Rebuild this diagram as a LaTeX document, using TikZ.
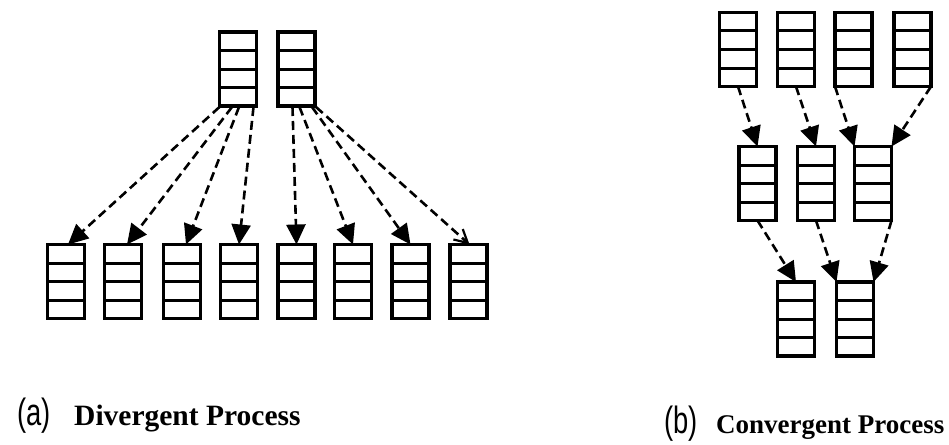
\documentclass[tikz,border=0pt]{standalone}
\usepackage{fontspec}
\setmainfont{Liberation Serif}
\newfontfamily\tagfont{Liberation Sans}
\usetikzlibrary{arrows.meta,calc}

\tikzset{
  queue/.style={draw, line width=3.2pt, outer sep=0pt, inner sep=0pt,
    minimum width=37pt, minimum height=74pt,
    path picture={
      \foreach \k in {1,2,3}
        \draw[line width=3pt]
          ($(path picture bounding box.north west)!\k/4!(path picture bounding box.south west)$)
          -- ++(60pt,0);
    }},
  flow/.style={line width=2.6pt, dash pattern=on 9pt off 5pt,
    -{Triangle[length=20pt,width=19pt]}},
  flowopen/.style={line width=2.6pt, dash pattern=on 9pt off 5pt,
    -{Straight Barb[length=13pt,width=14pt,line width=2.2pt]}},
  caption/.style={inner sep=0pt, anchor=base west},
  tag/.style={inner sep=0pt, anchor=base west,
    font=\tagfont\fontsize{38}{38}\selectfont}
}

\begin{document}
\begin{tikzpicture}[x=1pt,y=-1pt]
\useasboundingbox (0,0) rectangle (949,444);

% ---------- (a) divergent process ----------
\node[queue] (a1) at (238,69) {};
\node[queue] (a2) at (296.5,69) {};

\foreach \n/\x in {1/66,2/123,3/182,4/239,5/296.5,6/353,7/410.5,8/468.5}
  \node[queue] (d\n) at (\x,281.5) {};

\draw[flow] ($(a1.south west)+(0,1)$) -- ($(d1.north)+(2,0)$);
\draw[flow] ($(a1.south)+(-6,1)$) -- ($(d2.north)+(4,0)$);
\draw[flow] ($(a1.south)+(1,1)$) -- ($(d3.north)+(4,0)$);
\draw[flow] ($(a1.south east)+(-3,1)$) -- (d4.north);
\draw[flow] ($(a2.south)+(-4,1)$) -- (d5.north);
\draw[flow] ($(a2.south)+(3,1)$) -- (d6.north);
\draw[flow] ($(a2.south east)+(-3,1)$) -- (d7.north);
\draw[flowopen] ($(a2.south east)+(1,1)$) -- ($(d8.north)+(1,0)$);

\node[tag] (taga) at (17,425) {\scalebox{0.72}[1]{(a)}};
\node[caption, font=\bfseries\fontsize{29.5}{29.5}\selectfont] (capa)
  at (74,425) {Divergent Process};

% ---------- (b) convergent process ----------
\foreach \n/\x in {1/738,2/796,3/853.5,4/912.5}
  \node[queue] (b\n) at (\x,49.5) {};
\foreach \n/\x in {1/757.5,2/816,3/873}
  \node[queue] (m\n) at (\x,183.5) {};
\node[queue] (l1) at (796,319) {};
\node[queue] (l2) at (855,319) {};

\draw[flow] (b1.south) -- (m1.north);
\draw[flow] (b2.south) -- (m2.north);
\draw[flow] (b3.south west) -- (m3.north west);
\draw[flow] (b4.south east) -- (m3.north east);
\draw[flow] (m1.south) -- (l1.north);
\draw[flow] (m2.south) -- (l2.north west);
\draw[flow] (m3.south east) -- (l2.north east);

\node[tag] (tagb) at (664,433) {\scalebox{0.72}[1]{(b)}};
\node[caption, font=\bfseries\fontsize{27}{27}\selectfont] (capb)
  at (716,433) {Convergent Process};
\end{tikzpicture}
\end{document}
